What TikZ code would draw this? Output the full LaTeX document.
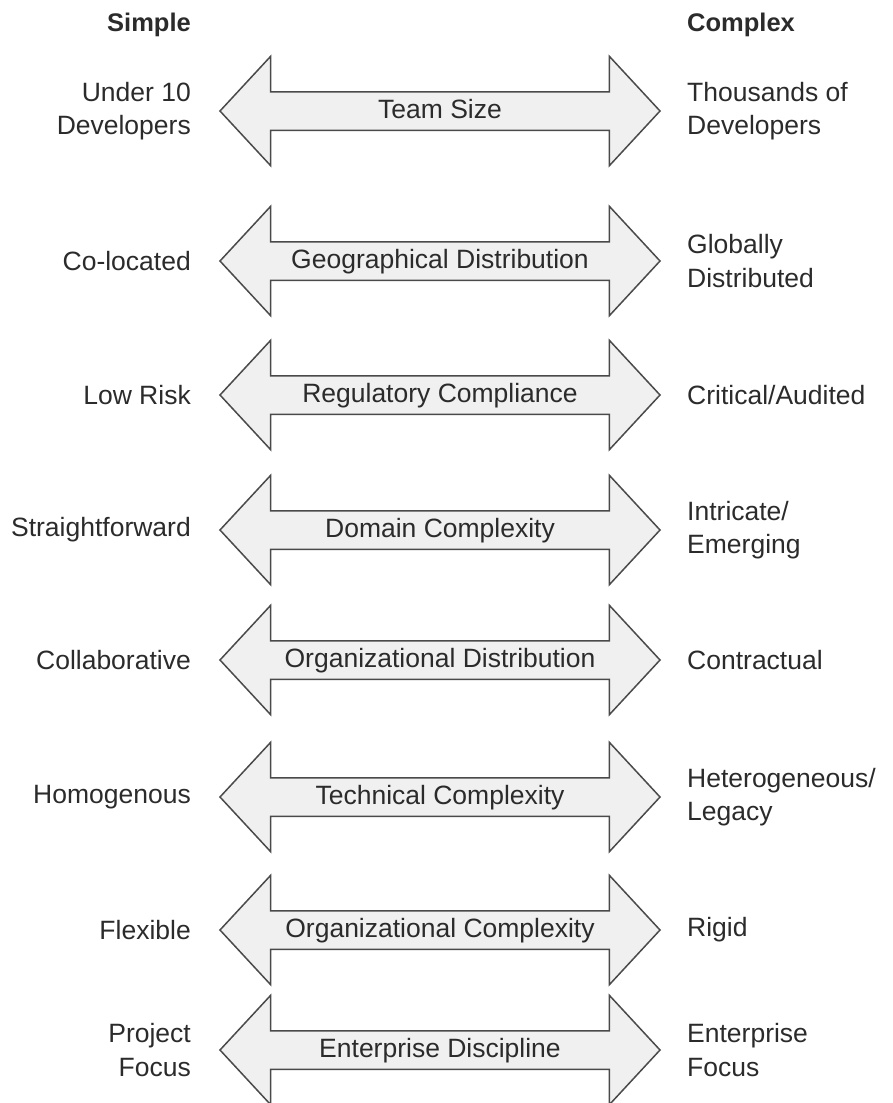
\documentclass[tikz,border=0pt]{standalone}
\usepackage{fontspec}
\setmainfont{Liberation Sans}
\usetikzlibrary{shapes.arrows}
\definecolor{arrowfill}{HTML}{F0F0F0}
\definecolor{arrowline}{HTML}{4A4A4A}
\definecolor{txt}{HTML}{2B2B2B}
\tikzset{
  dimarrow/.style={double arrow, draw=arrowline, fill=arrowfill, line width=1.5pt,
    double arrow tip angle=94.4, double arrow head extend=35.5pt,
    minimum height=440pt, text height=19pt, text depth=5pt, inner ysep=6.5pt, inner xsep=4pt,
    text=txt, font=\fontsize{26.5}{33}\selectfont},
  lefttext/.style={anchor=east, align=right, text=txt, inner sep=0pt, font=\fontsize{26.5}{33.5}\selectfont},
  righttext/.style={anchor=west, align=left, text=txt, inner sep=0pt, font=\fontsize{26.5}{33.5}\selectfont},
  header/.style={text=txt, inner sep=0pt, font=\fontsize{25.5}{30}\selectfont\bfseries}
}
\begin{document}
\begin{tikzpicture}[x=1pt,y=-1pt]
\useasboundingbox (0,0) rectangle (892,1103);
\node[header, anchor=base east] (simple) at (191,31.7) {Simple};
\node[header, anchor=base west] (complex) at (687,31.7) {Complex};

\node[dimarrow] (a1) at (440,111) {Team Size};
\node[lefttext] (l1) at (191,111) {Under 10\\Developers};
\node[righttext] (r1) at (687,111) {Thousands of\\Developers};

\node[dimarrow] (a2) at (440,261) {Geographical Distribution};
\node[lefttext] (l2) at (191,261) {Co-located};
\node[righttext] (r2) at (687,261) {Globally\\Distributed};

\node[dimarrow] (a3) at (440,395) {Regulatory Compliance};
\node[lefttext] (l3) at (191,395) {Low Risk};
\node[righttext] (r3) at (687,395) {Critical/Audited};

\node[dimarrow] (a4) at (440,530) {Domain Complexity};
\node[lefttext] (l4) at (191,530) {Straightforward};
\node[righttext] (r4) at (687,530) {Intricate/\\Emerging};

\node[dimarrow] (a5) at (440,660) {Organizational Distribution};
\node[lefttext] (l5) at (191,660) {Collaborative};
\node[righttext] (r5) at (687,660) {Contractual};

\node[dimarrow] (a6) at (440,797) {Technical Complexity};
\node[lefttext] (l6) at (191,797) {Homogenous};
\node[righttext] (r6) at (687,797) {Heterogeneous/\\Legacy};

\node[dimarrow] (a7) at (440,930) {Organizational Complexity};
\node[lefttext] (l7) at (191,930) {Flexible};
\node[righttext] (r7) at (687,930) {Rigid};

\node[dimarrow] (a8) at (440,1050) {Enterprise Discipline};
\node[lefttext] (l8) at (191,1050) {Project\\Focus};
\node[righttext] (r8) at (687,1050) {Enterprise\\Focus};
\end{tikzpicture}
\end{document}
